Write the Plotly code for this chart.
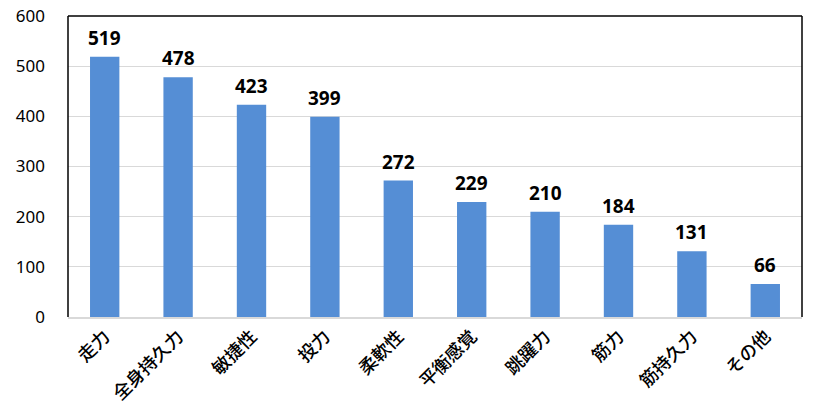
import plotly.graph_objects as go

categories = ["走力", "全身持久力", "敏捷性", "投力", "柔軟性", "平衡感覚", "跳躍力", "筋力", "筋持久力", "その他"]
values = [519, 478, 423, 399, 272, 229, 210, 184, 131, 66]
y_ticks = [0, 100, 200, 300, 400, 500, 600]

fig = go.Figure()
fig.add_trace(go.Bar(x=categories, y=values, marker=dict(color="#558ed5", line=dict(width=0)),
                     hoverinfo="x+y"))

for c, v in zip(categories, values):
    fig.add_annotation(x=c, y=v, text=f"<b>{v}</b>", showarrow=False, yanchor="bottom",
                       yshift=4, font=dict(size=19, color="black", family="Noto Sans, Liberation Sans, sans-serif"))

# frame on left, top, right
for x0, y0, x1, y1 in [(0, 0, 0, 1), (0, 1, 1, 1), (1, 0, 1, 1)]:
    fig.add_shape(type="line", xref="paper", yref="paper", x0=x0, y0=y0, x1=x1, y1=y1,
                  line=dict(color="black", width=1.5), layer="above")

fig.update_layout(
    width=816, height=411,
    margin=dict(l=68, r=14, t=16, b=94),
    paper_bgcolor="white", plot_bgcolor="white",
    bargap=0.6,
    showlegend=False,
    font=dict(family="Noto Sans, Liberation Sans, sans-serif", color="black"),
    xaxis=dict(showline=True, linecolor="#d9d9d9", linewidth=1.5, tickangle=-45,
               tickfont=dict(size=18, family="Noto Sans CJK JP", color="black", weight=500),
               ticks="", showgrid=False, automargin=False),
    yaxis=dict(range=[0, 600], tickvals=y_ticks, showgrid=True, gridcolor="#d9d9d9",
               gridwidth=1, zeroline=False, showline=False, ticks="",
               tickfont=dict(size=17, color="black"), ticklabelstandoff=22, automargin=False),
)

fig.write_html("out.html", config={"displayModeBar": False},
               post_script="document.body.style.margin='0';document.body.style.overflow='hidden';")
